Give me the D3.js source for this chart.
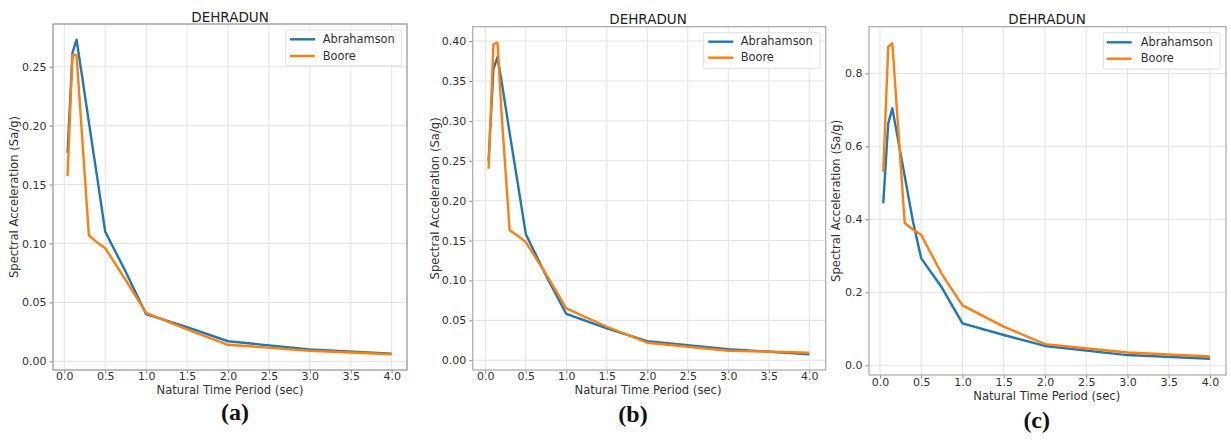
<!DOCTYPE html>
<html>
<head>
<meta charset="utf-8">
<script src="https://cdn.jsdelivr.net/npm/d3@7"></script>
<style>
  html, body { margin: 0; padding: 0; background: #fff; }
  svg { display: block; }
  text { font-family: "DejaVu Sans", sans-serif; }
</style>
</head>
<body>
<svg id="chart" width="1231" height="440"></svg>
<script>
// ---------- data ----------
const periods = [0.04, 0.1, 0.15, 0.2, 0.3, 0.4, 0.5, 0.75, 1.0, 1.5, 2.0, 3.0, 4.0];

const abrahamsonA = [0.177, 0.262, 0.273, 0.250, 0.203, 0.157, 0.110, 0.076, 0.040, 0.029, 0.017, 0.010, 0.0065];
const booreA      = [0.157, 0.260, 0.260, 0.209, 0.107, 0.101, 0.096, 0.069, 0.041, 0.027, 0.014, 0.009, 0.006];

const abrahamsonB = [0.250, 0.365, 0.380, 0.350, 0.285, 0.222, 0.158, 0.106, 0.058, 0.040, 0.024, 0.014, 0.0075];
const booreB      = [0.240, 0.396, 0.398, 0.310, 0.163, 0.156, 0.148, 0.108, 0.065, 0.042, 0.022, 0.012, 0.0095];

const abrahamsonC = [0.444, 0.663, 0.704, 0.642, 0.518, 0.394, 0.293, 0.213, 0.115, 0.083, 0.053, 0.028, 0.018];
const booreC      = [0.530, 0.873, 0.882, 0.718, 0.390, 0.372, 0.357, 0.250, 0.164, 0.106, 0.058, 0.035, 0.024];

const xTicks = [0, 0.5, 1.0, 1.5, 2.0, 2.5, 3.0, 3.5, 4.0];
const yTicksA = [0, 0.05, 0.10, 0.15, 0.20, 0.25];
const yTicksB = [0, 0.05, 0.10, 0.15, 0.20, 0.25, 0.30, 0.35, 0.40];
const yTicksC = [0, 0.2, 0.4, 0.6, 0.8];

const seriesNames = ["Abrahamson", "Boore"];
const seriesColors = ["#1f77b4", "#ff7f0e"];
const titleText = "DEHRADUN";
const xLabelText = "Natural Time Period (sec)";
const yLabelText = "Spectral Acceleration (Sa/g)";
const captions = ["(a)", "(b)", "(c)"];

// ---------- layout ----------
const panels = [
  { L: 53,  T: 24,   R: 407,  B: 370, xd: [-0.138, 4.187], yd: [-0.0074, 0.2863], yTicks: yTicksA, yFmt: ".2f",
    series: [abrahamsonA, booreA], frame: "#9a9a9a",
    titleX: 230, titleY: 21.7, yLabX: 14, xLabX: 230, xLabY: 390.7, tickLabY: 377.3,
    leg: { x: 285.7, y: 30, w: 116, h: 35.7, lx: 290, tx: 322.7, y1: 39.3, y2: 56 },
    cap: { x: 235, y: 420 } },
  { L: 472.7, T: 26.7, R: 825.7, B: 370, xd: [-0.156, 4.203], yd: [-0.0122, 0.418], yTicks: yTicksB, yFmt: ".2f",
    series: [abrahamsonB, booreB], frame: "#b0b0b0",
    titleX: 648, titleY: 24, yLabX: 435, xLabX: 648, xLabY: 390.7, tickLabY: 377.3,
    leg: { x: 703.3, y: 32.7, w: 116.7, h: 35.6, lx: 708.3, tx: 740.7, y1: 41.7, y2: 57.7 },
    cap: { x: 633, y: 422 } },
  { L: 869, T: 26.7, R: 1226, B: 375, xd: [-0.133, 4.194], yd: [-0.0266, 0.9277], yTicks: yTicksC, yFmt: ".1f",
    series: [abrahamsonC, booreC], frame: "#b0b0b0",
    titleX: 1047, titleY: 24, yLabX: 836, xLabX: 1046.7, xLabY: 396, tickLabY: 382.7,
    leg: { x: 1103.3, y: 32.7, w: 116.7, h: 36.3, lx: 1106.7, tx: 1140.7, y1: 42.3, y2: 58.7 },
    cap: { x: 1036.7, y: 427.5 } }
];

const svg = d3.select("#chart");

panels.forEach((p, i) => {
  const g = svg.append("g");
  const x = d3.scaleLinear().domain(p.xd).range([p.L, p.R]);
  const y = d3.scaleLinear().domain(p.yd).range([p.B, p.T]);

  // grid
  g.append("g").selectAll("line").data(xTicks).join("line")
    .attr("x1", d => x(d)).attr("x2", d => x(d))
    .attr("y1", p.T).attr("y2", p.B)
    .attr("stroke", "#e3e3e3").attr("stroke-width", 1);
  g.append("g").selectAll("line").data(p.yTicks).join("line")
    .attr("x1", p.L).attr("x2", p.R)
    .attr("y1", d => y(d)).attr("y2", d => y(d))
    .attr("stroke", "#e3e3e3").attr("stroke-width", 1);

  // axes
  const xAxis = g.append("g").attr("transform", `translate(0,${p.B})`)
    .call(d3.axisBottom(x).tickValues(xTicks).tickFormat(d3.format(".1f")).tickSizeOuter(0).tickSize(3.5).tickPadding(3));
  const yAxis = g.append("g").attr("transform", `translate(${p.L},0)`)
    .call(d3.axisLeft(y).tickValues(p.yTicks).tickFormat(d3.format(p.yFmt)).tickSizeOuter(0).tickSize(3.5).tickPadding(3));
  [xAxis, yAxis].forEach(a => {
    a.select(".domain").remove();
    a.selectAll(".tick line").attr("stroke", "#888");
    a.selectAll(".tick text").attr("fill", "#333").style("font-size", "11px")
      .style("font-family", "DejaVu Sans, sans-serif");
  });
  xAxis.selectAll(".tick text").attr("dy", null).attr("y", p.tickLabY - p.B).attr("dominant-baseline", "middle");

  // lines
  const line = d3.line().x((d, j) => x(periods[j])).y(d => y(d));
  p.series.forEach((s, k) => {
    g.append("path").datum(s)
      .attr("d", line)
      .attr("fill", "none")
      .attr("stroke", seriesColors[k])
      .attr("stroke-width", 2.4)
      .attr("stroke-linejoin", "round");
  });

  // frame
  g.append("rect").attr("x", p.L).attr("y", p.T).attr("width", p.R - p.L).attr("height", p.B - p.T)
    .attr("fill", "none").attr("stroke", p.frame).attr("stroke-width", 1.3);

  // legend
  const lg = g.append("g");
  lg.append("rect").attr("x", p.leg.x).attr("y", p.leg.y).attr("width", p.leg.w).attr("height", p.leg.h)
    .attr("rx", 2).attr("fill", "rgba(255,255,255,0.85)").attr("stroke", "#e0e0e0");
  seriesNames.forEach((n, k) => {
    const yy = k === 0 ? p.leg.y1 : p.leg.y2;
    lg.append("line").attr("x1", p.leg.lx).attr("x2", p.leg.lx + 25).attr("y1", yy).attr("y2", yy)
      .attr("stroke", seriesColors[k]).attr("stroke-width", 2.4);
    lg.append("text").attr("x", p.leg.tx).attr("y", yy).attr("dominant-baseline", "middle")
      .attr("fill", "#333").style("font-size", "11.4px").text(n);
  });

  // title
  g.append("text").attr("x", p.titleX).attr("y", p.titleY).attr("text-anchor", "middle")
    .attr("fill", "#222").style("font-size", "13.5px").text(titleText);

  // axis labels
  g.append("text").attr("x", p.xLabX).attr("y", p.xLabY).attr("text-anchor", "middle")
    .attr("dominant-baseline", "middle")
    .attr("fill", "#333").style("font-size", "11.6px").text(xLabelText);
  g.append("text").attr("transform", `translate(${p.yLabX},${(p.T + p.B) / 2}) rotate(-90)`)
    .attr("text-anchor", "middle").attr("dominant-baseline", "middle")
    .attr("fill", "#333").style("font-size", "11.6px").text(yLabelText);

  // caption
  g.append("text").attr("x", p.cap.x).attr("y", p.cap.y).attr("text-anchor", "middle")
    .attr("fill", "#111").style("font-family", "Liberation Serif, serif").style("font-weight", "bold")
    .style("font-size", "24px").text(captions[i]);
});
</script>
</body>
</html>
